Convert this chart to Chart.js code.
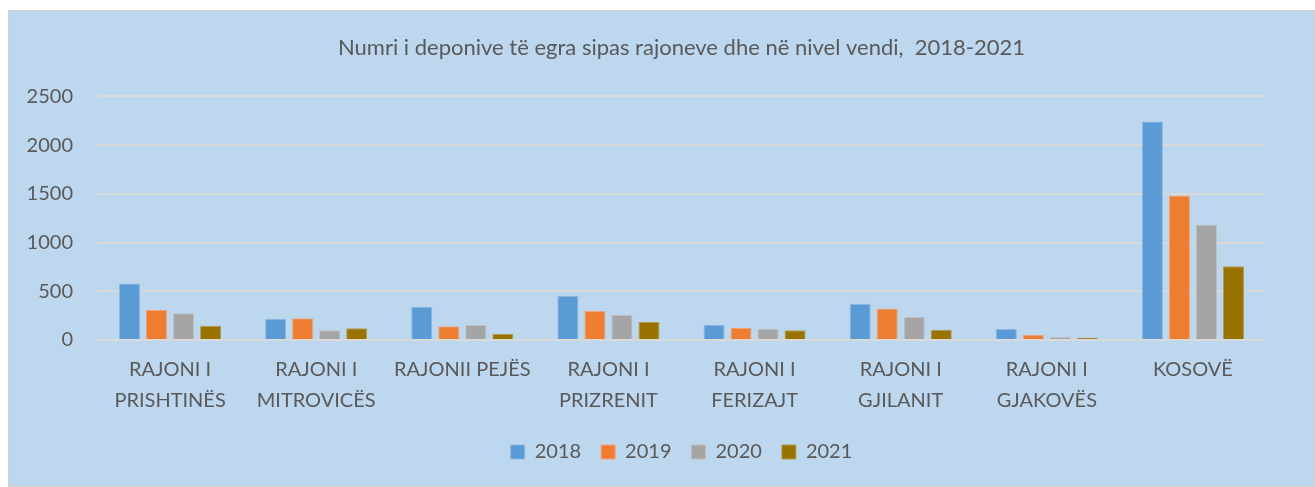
<!DOCTYPE html>
<html>
<head>
<meta charset="utf-8">
<script src="https://cdn.jsdelivr.net/npm/chart.js@4"></script>
<style>
  html, body { margin: 0; padding: 0; background: #ffffff; }
  #box {
    position: absolute; left: 8px; top: 10px; width: 1305px; height: 475px;
    background: #bdd7ee; border: 1px solid #d0d0d0;
  }
</style>
</head>
<body>
<div id="box"><canvas id="chart"></canvas></div>
<script>
var regions = [
    ['RAJONI I', 'PRISHTINËS'], ['RAJONI I', 'MITROVICËS'], 'RAJONII PEJËS',
    ['RAJONI I', 'PRIZRENIT'], ['RAJONI I', 'FERIZAJT'], ['RAJONI I', 'GJILANIT'],
    ['RAJONI I', 'GJAKOVËS'], 'KOSOVË'
];
var years = ['2018', '2019', '2020', '2021'];
var v2018 = [580, 219, 342, 452, 157, 373, 113, 2242];
var v2019 = [308, 223, 140, 298, 123, 322, 55, 1482];
var v2020 = [274, 99, 154, 257, 116, 236, 31, 1182];
var v2021 = [147, 120, 65, 185, 99, 106, 24, 756];
var yTicks = [0, 500, 1000, 1500, 2000, 2500];

var colors = ['#5b9bd5', '#ed7d31', '#a5a5a5', '#997300'];
var borders = ['#8ab8e2', '#f3a277', '#bfbfbf', '#b39a4d'];
var series = [v2018, v2019, v2020, v2021];

var ctx = document.getElementById('chart').getContext('2d');
Chart.defaults.font.family = 'Lato, "Open Sans", sans-serif';
Chart.defaults.color = '#595959';

var chart = new Chart(ctx, {
    type: 'bar',
    data: {
        labels: regions,
        datasets: series.map(function(d, i) {
            return {
                label: years[i],
                data: d,
                backgroundColor: colors[i],
                borderColor: borders[i],
                borderWidth: 1,
                barPercentage: 0.78,
                categoryPercentage: 0.74
            };
        })
    },
    options: {
        responsive: true,
        maintainAspectRatio: false,
        animation: false,
        layout: { padding: { left: 18, right: 48, top: 14, bottom: 14 } },
        plugins: {
            title: {
                display: true,
                fullSize: false,
                text: 'Numri i deponive të egra sipas rajoneve dhe në nivel vendi,  2018-2021',
                font: { size: 22, weight: 'normal' },
                color: '#595959',
                padding: { top: 10, bottom: 35 }
            },
            legend: {
                position: 'bottom',
                fullSize: false,
                labels: { boxWidth: 14, boxHeight: 14, font: { size: 20 }, padding: 20 }
            },
            tooltip: { enabled: false }
        },
        scales: {
            x: {
                grid: { display: false },
                border: { display: false },
                ticks: { font: { size: 20, lineHeight: 1.55 }, maxRotation: 0, padding: 6 }
            },
            y: {
                min: 0, max: 2500,
                afterBuildTicks: function(axis) {
                    axis.ticks = yTicks.map(function(v) { return { value: v }; });
                },
                afterFit: function(axis) { axis.width = 70; },
                grid: { color: '#d9d9d9', lineWidth: 2, drawTicks: false },
                border: { display: false },
                ticks: {
                    font: { size: 20 }, padding: 24,
                    callback: function(v) { return String(v); }
                }
            }
        }
    }
});
</script>
</body>
</html>
